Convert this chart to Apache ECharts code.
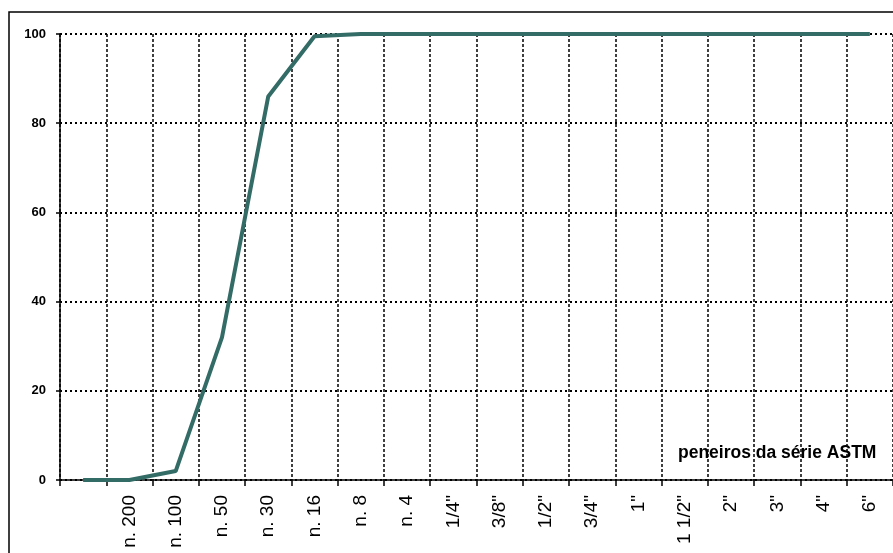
<!DOCTYPE html>
<html>
<head>
<meta charset="utf-8">
<script src="https://cdn.jsdelivr.net/npm/echarts@6/dist/echarts.min.js"></script>
<style>
html,body{margin:0;padding:0;background:#fff;}
#chart{width:893px;height:553px;}
</style>
</head>
<body>
<div id="chart"></div>
<script>
const categories = ['', 'n. 200', 'n. 100', 'n. 50', 'n. 30', 'n. 16', 'n. 8', 'n. 4', '1/4"', '3/8"', '1/2"', '3/4"', '1"', '1 1/2"', '2"', '3"', '4"', '6"'];
const passing = [0, 0, 2, 32, 86, 99.5, 100, 100, 100, 100, 100, 100, 100, 100, 100, 100, 100, 100];
const yTicks = { min: 0, max: 100, interval: 20 };
const annotation = 'peneiros da série ASTM';

const chart = echarts.init(document.getElementById('chart'));
chart.setOption({
  animation: false,
  backgroundColor: '#fff',
  grid: { left: 60, top: 34, width: 837, height: 446, containLabel: false },
  xAxis: {
    type: 'category',
    data: categories,
    boundaryGap: true,
    axisLine: { show: true, lineStyle: { color: '#000', width: 1.5 } },
    axisTick: { show: true, interval: 0, length: 6, lineStyle: { color: '#000', width: 1.5 } },
    axisLabel: {
      interval: 0, rotate: 90, margin: 15,
      fontFamily: 'Liberation Sans, Arial, sans-serif', fontSize: 19, color: '#000'
    },
    splitLine: { show: true, interval: 0, lineStyle: { color: '#000', width: 1.5, type: [3, 2] } }
  },
  yAxis: {
    type: 'value',
    min: yTicks.min, max: yTicks.max, interval: yTicks.interval,
    axisLine: { show: true, lineStyle: { color: '#000', width: 1.5 } },
    axisTick: { show: true, length: 4, lineStyle: { color: '#000', width: 1.5 } },
    axisLabel: {
      margin: 14,
      fontFamily: 'Liberation Sans, Arial, sans-serif', fontSize: 13, fontWeight: 'bold', color: '#000'
    },
    splitLine: { show: true, lineStyle: { color: '#000', width: 2, type: [2, 3] } }
  },
  series: [{
    type: 'line',
    data: passing,
    symbol: 'none',
    lineStyle: { color: '#336b66', width: 4 },
    z: 5
  }],
  graphic: [
    {
      type: 'rect',
      shape: { x: 9, y: 12, width: 1000, height: 1000 },
      style: { fill: 'none', stroke: '#000', lineWidth: 1.5 },
      silent: true
    },
    {
      type: 'text',
      left: 678, top: 444,
      style: {
        text: annotation,
        font: 'bold 17.5px "Liberation Sans", Arial, sans-serif',
        fill: '#000'
      },
      z: 10
    }
  ]
});
</script>
</body>
</html>
